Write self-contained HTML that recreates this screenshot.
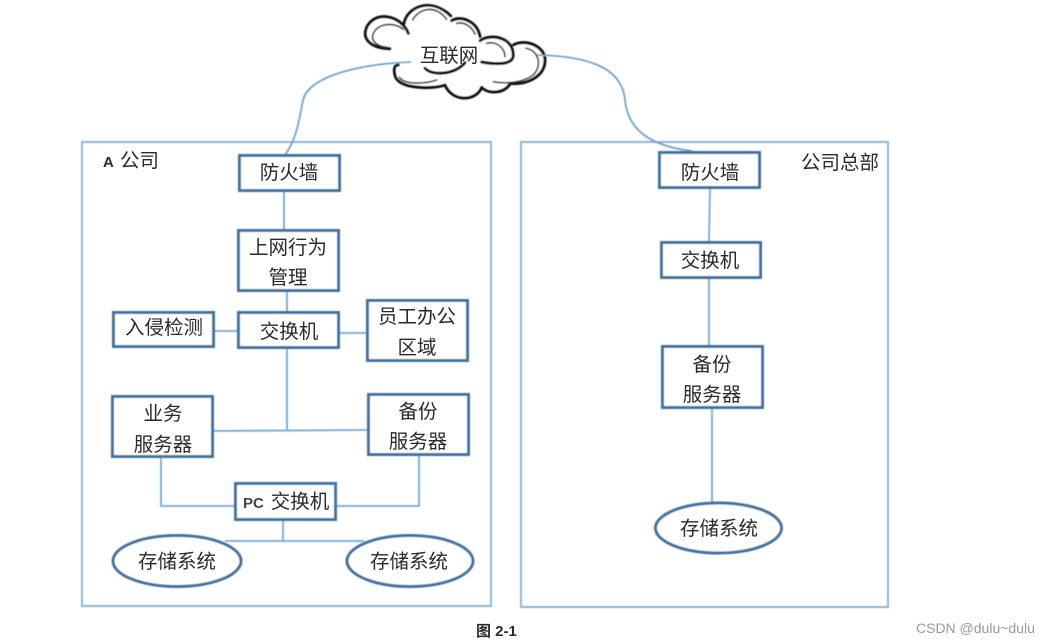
<!DOCTYPE html>
<html>
<head>
<meta charset="utf-8">
<style>
html,body{margin:0;padding:0;background:#fff;width:1051px;height:643px;overflow:hidden}
svg{display:block}
text{font-family:"Liberation Sans","Noto Sans CJK SC",sans-serif;fill:#2b2b2b}
.c{text-anchor:middle;font-size:19.500px}
.b{fill:#fff;stroke:#41719c;stroke-width:3}
.o{fill:none;stroke:#8db4d6;stroke-width:2}
.l{fill:none;stroke:#6fa8d6;stroke-width:1.800}
.k{fill:none;stroke:#111;stroke-width:9;stroke-linecap:round}
.i{fill:none;stroke:#333;stroke-width:5;stroke-linecap:round}
</style>
</head>
<body>
<svg width="1051" height="643" viewBox="0 0 1051 643" xmlns="http://www.w3.org/2000/svg">
<defs>
<filter id="s" x="-5%" y="-5%" width="110%" height="110%"><feGaussianBlur stdDeviation="0.450"/></filter>
<filter id="t" x="-5%" y="-5%" width="110%" height="110%"><feGaussianBlur stdDeviation="0.300"/></filter>
</defs>
<g filter="url(#s)">
<!-- containers -->
<rect x="82" y="142" width="409" height="464" class="o"/>
<rect x="521" y="142" width="367" height="465" class="o"/>

<!-- cloud, drawn in 3x coordinates -->
<g transform="translate(340 0) scale(0.3333)">
<path d="M205 100 C190 50 110 25 80 80 C65 120 100 145 165 150 L165 225 C170 265 270 270 315 255 C340 310 410 300 425 262 C445 280 490 280 510 252 C560 255 615 230 615 180 C615 140 560 115 520 135 C500 105 450 100 420 115 C410 65 365 45 335 60 C320 -10 200 -10 195 70 Z" fill="#fff"/>
<path class="k" d="M205 100 C190 55 115 25 82 78 C62 118 95 145 150 146"/>
<path class="k" d="M192 72 C200 20 275 -12 332 48"/>
<path class="k" d="M335 62 C365 45 412 65 420 110"/>
<path class="k" d="M420 122 C450 100 520 110 520 165 C520 192 480 196 425 186"/>
<path class="k" d="M520 135 C560 115 615 140 615 180 C615 230 560 255 510 250"/>
<path class="k" d="M510 252 C490 282 445 282 425 262"/>
<path class="k" d="M425 262 C410 302 340 310 315 255"/>
<path class="k" d="M315 255 C270 270 170 265 165 225 C160 205 165 195 175 195"/>
<path class="k" d="M255 205 C275 228 345 225 375 188"/>
<path class="i" d="M190 88 C160 65 115 70 100 100 C90 125 115 140 142 142"/>
<path class="i" d="M218 60 C238 22 290 15 320 58"/>
<path class="i" d="M350 70 C375 65 395 80 405 102"/>
<path class="i" d="M440 130 C470 122 495 145 495 170"/>
<path class="i" d="M558 145 C592 150 610 192 580 225 C545 250 495 252 460 245"/>
<path class="i" d="M178 232 C195 255 255 252 290 240"/>
</g>

<!-- links, drawn over the cloud -->
<path d="M285 155 C296 140 299 122 303 100 C309 76 360 64 411 62" fill="none" stroke="#6fa3cf" stroke-width="1.800"/>
<path d="M537 55 C585 56 622 66 625 100 C628 130 650 146 692 151" fill="none" stroke="#6fa3cf" stroke-width="1.800"/>

<path class="l" d="M284 190V230M287 291V312M214 331H238M339 333H367M287 348V431M212 431L368 430"/>
<path class="l" d="M161 457V506H235M419 455V506H336"/>
<path class="l" d="M283 519V541M225 541H364"/>
<path class="l" d="M710 188L709 242M709 278V346M712 407V503"/>

<!-- boxes -->
<rect class="b" x="239.500" y="155.500" width="100" height="35"/>
<rect class="b" x="238.500" y="230.500" width="100" height="60"/>
<rect class="b" x="238.500" y="312.500" width="100" height="35"/>
<rect class="b" x="113.500" y="312.500" width="100" height="34"/>
<rect class="b" x="367.500" y="300.500" width="100" height="60"/>
<rect class="b" x="112.500" y="396.500" width="100" height="60"/>
<rect class="b" x="368.500" y="394.500" width="100" height="60"/>
<rect class="b" x="235.500" y="483.500" width="100" height="36"/>
<ellipse class="b" cx="177" cy="561" rx="64" ry="25.500"/>
<ellipse class="b" cx="410" cy="561" rx="63" ry="25.500"/>
<rect class="b" x="659.500" y="152.500" width="100" height="35"/>
<rect class="b" x="661.500" y="242.500" width="99" height="35"/>
<rect class="b" x="662.500" y="346.500" width="100" height="61"/>
<ellipse class="b" cx="718.500" cy="528" rx="63" ry="25"/>
</g>

<!-- labels -->
<g filter="url(#t)">
<text x="449" y="62" class="c">互联网</text>
<text x="103" y="167" style="font-size:15px;font-weight:bold">A</text>
<text x="120" y="167" style="font-size:19.500px">公司</text>
<text x="840" y="169" class="c">公司总部</text>
<text x="289" y="179" class="c">防火墙</text>
<text x="288" y="254" class="c">上网行为</text>
<text x="288" y="284" class="c">管理</text>
<text x="289" y="338" class="c">交换机</text>
<text x="164" y="334" class="c">入侵检测</text>
<text x="417" y="323" class="c">员工办公</text>
<text x="417" y="354" class="c">区域</text>
<text x="163" y="420" class="c">业务</text>
<text x="163" y="451" class="c">服务器</text>
<text x="418" y="418" class="c">备份</text>
<text x="418" y="448" class="c">服务器</text>
<text x="243" y="508" style="font-size:15px;font-weight:bold;fill:#444">PC</text>
<text x="300" y="508" class="c">交换机</text>
<text x="177" y="568" class="c">存储系统</text>
<text x="409" y="568" class="c">存储系统</text>
<text x="710" y="179" class="c">防火墙</text>
<text x="710" y="267" class="c">交换机</text>
<text x="712" y="371" class="c">备份</text>
<text x="712" y="401" class="c">服务器</text>
<text x="719" y="535" class="c">存储系统</text>
<text x="476" y="636" style="font-size:15px;font-weight:bold">图 2-1</text>
<text x="916" y="633" style="font-size:14px;fill:#999">CSDN @dulu~dulu</text>
</g>
</svg>
</body>
</html>
